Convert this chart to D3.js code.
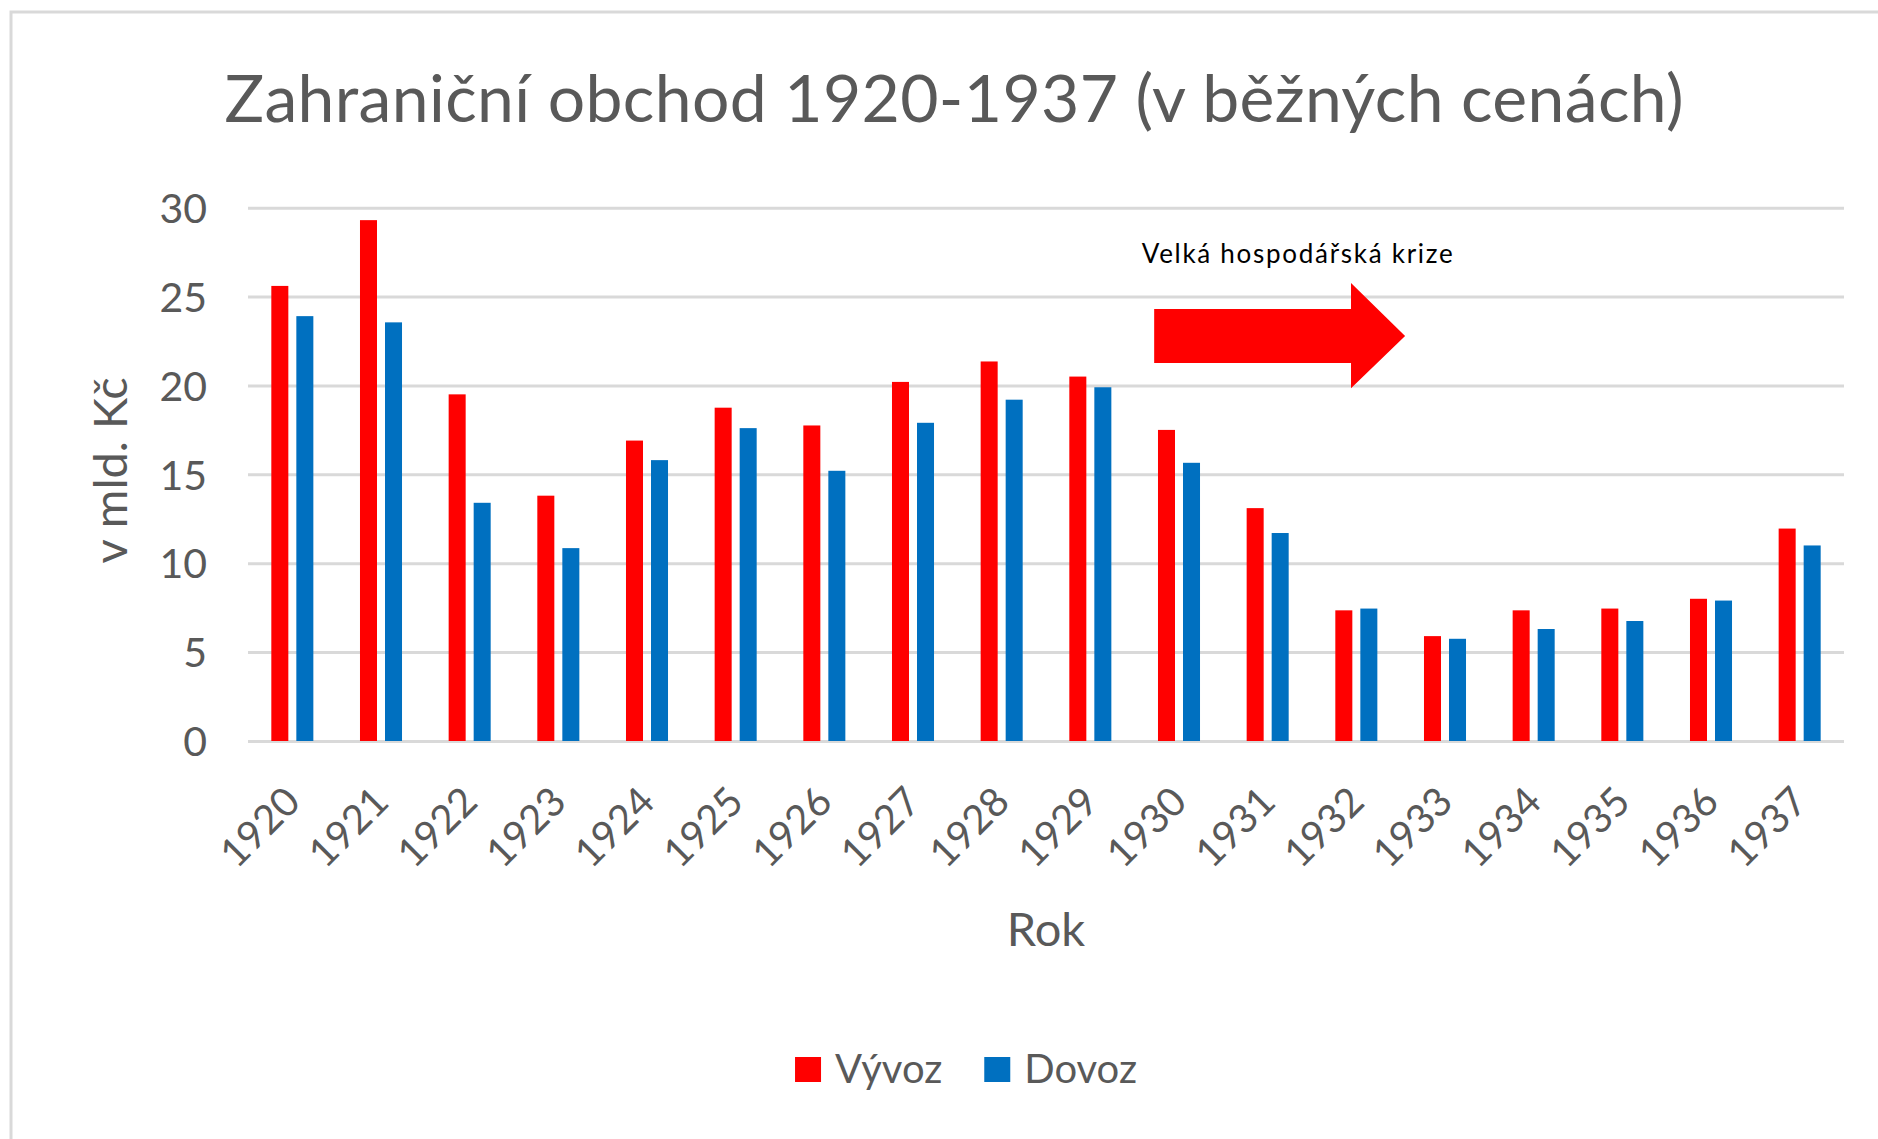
<!DOCTYPE html>
<html>
<head>
<meta charset="utf-8">
<script src="https://cdn.jsdelivr.net/npm/d3@7"></script>
<style>
  body { margin: 0; background: #fff; }
  svg text { font-family: Lato, "Open Sans", sans-serif; }
</style>
</head>
<body>
<div id="chart"></div>
<script>
// values (bn Kč, current prices)
const years = ["1920", "1921", "1922", "1923", "1924", "1925", "1926", "1927", "1928",
  "1929", "1930", "1931", "1932", "1933", "1934", "1935", "1936", "1937"];
const seriesNames = ["Vývoz", "Dovoz"];
const exportValues = [25.6, 29.3, 19.5, 13.8, 16.9, 18.75, 17.75, 20.2, 21.35,
  20.5, 17.5, 13.1, 7.35, 5.9, 7.35, 7.45, 8.0, 11.95];
const importValues = [23.9, 23.55, 13.4, 10.85, 15.8, 17.6, 15.2, 17.9, 19.2,
  19.9, 15.65, 11.7, 7.45, 5.75, 6.3, 6.75, 7.9, 11.0];
const yTicks = [0, 5, 10, 15, 20, 25, 30];
const seriesColors = ["#ff0000", "#0070c0"];

const chartTitle = "Zahraniční obchod 1920-1937 (v běžných cenách)";
const yAxisTitle = "v mld. Kč";
const xAxisTitle = "Rok";
const noteText = "Velká hospodářská krize";

class TradeChart {
  constructor(_config) {
    this.config = {
      parentElement: _config.parentElement,
      containerWidth: 1878,
      containerHeight: 1139,
      margin: { top: 207.7, right: 34, bottom: 398, left: 248 }
    };
    this.initVis();
  }

  initVis() {
    let vis = this;
    const m = vis.config.margin;
    vis.width = vis.config.containerWidth - m.left - m.right;
    vis.height = vis.config.containerHeight - m.top - m.bottom;

    vis.svg = d3.select(vis.config.parentElement).append("svg")
      .attr("width", vis.config.containerWidth)
      .attr("height", vis.config.containerHeight);

    // chart frame (right and bottom edges fall outside the window)
    vis.svg.append("rect")
      .attr("x", 11).attr("y", 12)
      .attr("width", 1920).attr("height", 1200)
      .attr("fill", "none")
      .attr("stroke", "#d9d9d9")
      .attr("stroke-width", 3);

    vis.chart = vis.svg.append("g")
      .attr("transform", `translate(${m.left},${m.top})`);

    vis.x0 = d3.scaleBand().domain(years).range([0, vis.width])
      .paddingInner(0.526).paddingOuter(0.263);
    vis.x1 = d3.scaleBand().domain(seriesNames).range([0, vis.x0.bandwidth()])
      .paddingInner(0.32);
    vis.xi = d3.scaleLinear().domain([0, years.length]).range([0, vis.width]);
    vis.y = d3.scaleLinear().domain([0, 30]).range([vis.height, 0]);

    vis.renderVis();
  }

  renderVis() {
    let vis = this;
    const m = vis.config.margin;

    // gridlines + y labels
    const yAxis = vis.chart.append("g")
      .call(d3.axisLeft(vis.y).tickValues(yTicks).tickSize(-vis.width).tickPadding(41));
    yAxis.select(".domain").remove();
    yAxis.selectAll("line").attr("stroke", "#d9d9d9").attr("stroke-width", 3);
    yAxis.selectAll("text")
      .attr("fill", "#595959")
      .style("font-size", "41px")
      .attr("dy", "0.36em");

    // bars
    const rows = years.map((yr, i) => ({ year: yr, values: [exportValues[i], importValues[i]] }));
    vis.chart.append("g").selectAll("g")
      .data(rows)
      .join("g")
      .attr("transform", d => `translate(${vis.x0(d.year)},0)`)
      .selectAll("rect")
      .data(d => d.values.map((v, k) => ({ key: seriesNames[k], value: v, color: seriesColors[k] })))
      .join("rect")
      .attr("x", d => vis.x1(d.key))
      .attr("width", vis.x1.bandwidth())
      .attr("y", d => vis.y(d.value))
      .attr("height", d => vis.y(0) - vis.y(d.value))
      .attr("fill", d => d.color);

    // x labels, rotated
    const xAxis = vis.chart.append("g")
      .attr("transform", `translate(0,${vis.height})`)
      .call(d3.axisBottom(vis.x0).tickSize(0));
    xAxis.select(".domain").remove();
    xAxis.selectAll("text")
      .attr("fill", "#595959")
      .style("font-size", "40px")
      .attr("text-anchor", "end")
      .attr("dy", null)
      .attr("y", 0)
      .attr("transform", "translate(10,63) rotate(-45)");

    // axis titles
    vis.svg.append("text")
      .attr("transform", `translate(127,${m.top + vis.height / 2 - 4}) rotate(-90)`)
      .attr("text-anchor", "middle")
      .attr("fill", "#595959")
      .style("font-size", "47px")
      .text(yAxisTitle);

    vis.svg.append("text")
      .attr("x", m.left + vis.width / 2)
      .attr("y", 946)
      .attr("text-anchor", "middle")
      .attr("fill", "#595959")
      .style("font-size", "47px")
      .text(xAxisTitle);

    // chart title
    vis.svg.append("text")
      .attr("x", 954)
      .attr("y", 122)
      .attr("text-anchor", "middle")
      .attr("fill", "#595959")
      .style("font-size", "66px")
      .attr("textLength", 1459)
      .attr("lengthAdjust", "spacing")
      .text(chartTitle);

    // crisis annotation: arrow drawn in data units
    const xi = vis.xi, y = vis.y;
    const arrow = [
      [10.22, 24.3], [12.44, 24.3], [12.44, 25.76], [13.05, 22.78],
      [12.44, 19.85], [12.44, 21.26], [10.22, 21.26]
    ];
    vis.chart.append("path")
      .attr("d", d3.line().x(d => xi(d[0])).y(d => y(d[1]))(arrow) + "Z")
      .attr("fill", "#ff0000");

    vis.chart.append("text")
      .attr("x", xi(10.08))
      .attr("y", y(26.9))
      .attr("fill", "#000")
      .style("font-size", "26px")
      .attr("textLength", 311)
      .attr("lengthAdjust", "spacing")
      .text(noteText);

    // legend
    const legend = vis.svg.append("g");
    let offset = 0;
    seriesNames.forEach((name, k) => {
      const item = legend.append("g").attr("transform", `translate(${offset},0)`);
      item.append("rect")
        .attr("x", 0).attr("y", -26)
        .attr("width", 26).attr("height", 25)
        .attr("fill", seriesColors[k]);
      const t = item.append("text")
        .attr("x", 40).attr("y", 0)
        .attr("fill", "#595959")
        .style("font-size", "40px")
        .text(name);
      offset += 40 + t.node().getComputedTextLength() + 42;
    });
    const total = offset - 42;
    legend.attr("transform", `translate(${966 - total / 2},1083)`);
  }
}

new TradeChart({ parentElement: "#chart" });
</script>
</body>
</html>
